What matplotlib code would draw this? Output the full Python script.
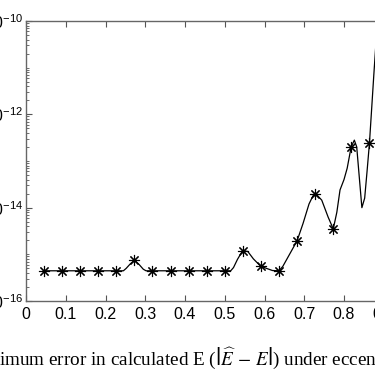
import matplotlib
matplotlib.use("Agg")
import matplotlib.pyplot as plt
from matplotlib.ticker import LogLocator, NullFormatter

# star markers: x = k/22
mark_x = [1/22, 2/22, 3/22, 4/22, 5/22, 6/22, 7/22, 8/22, 9/22, 10/22,
          11/22, 12/22, 13/22, 14/22, 15/22, 16/22, 17/22, 18/22, 19/22]
mark_y = [4.44e-16, 4.44e-16, 4.44e-16, 4.44e-16, 4.44e-16, 7.5e-16, 4.44e-16,
          4.44e-16, 4.44e-16, 4.44e-16, 4.44e-16, 1.2e-15, 5.6e-16, 4.44e-16,
          1.95e-15, 1.95e-14, 3.5e-15, 2.0e-13, 2.4e-13]

# continuous curve
line_x = [0.045, 0.245, 0.252, 0.262, 0.273, 0.285, 0.295, 0.302, 0.515,
          0.522, 0.532, 0.545, 0.558, 0.572, 0.590, 0.605, 0.620, 0.636,
          0.646, 0.660, 0.682, 0.697, 0.712, 0.722, 0.730, 0.744, 0.760,
          0.773, 0.782, 0.790, 0.800, 0.808, 0.818, 0.826, 0.832, 0.838,
          0.845, 0.852, 0.858, 0.864, 0.870, 0.875, 0.880, 0.884]
line_y = [4.44e-16, 4.44e-16, 5.0e-16, 6.2e-16, 7.5e-16, 6.0e-16, 4.8e-16,
          4.44e-16, 4.44e-16, 5.2e-16, 7.8e-16, 1.2e-15, 1.15e-15, 8.0e-16,
          5.6e-16, 5.0e-16, 4.5e-16, 4.44e-16, 5.5e-16, 9.0e-16, 1.95e-15,
          4.6e-15, 1.2e-14, 1.8e-14, 1.95e-14, 1.45e-14, 6.3e-15, 3.5e-15,
          8.0e-15, 2.4e-14, 4.0e-14, 7.0e-14, 2.0e-13, 2.8e-13, 2.0e-13,
          5.0e-14, 1.0e-14, 1.6e-14, 6.0e-14, 2.4e-13, 1.5e-12, 7.0e-12,
          3.0e-11, 8.0e-11]

caption = r"Maximum error in calculated E ($\left|\widehat{E}\,-\,E\right|$) under eccentricity"

plt.rcParams['font.family'] = ['Liberation Sans', 'DejaVu Sans']
plt.rcParams['mathtext.fontset'] = 'custom'
plt.rcParams['mathtext.rm'] = 'Liberation Sans'

fig = plt.figure(figsize=(3.75, 3.75), dpi=100)
# axes run past the right edge of the figure, like the cropped reference
ax = fig.add_axes([26/375, 74/375, 397.5/375, 280/375])

ax.plot(line_x, line_y, color='black', linewidth=0.9)
ax.plot(mark_x, mark_y, linestyle='none', marker=(8, 2, 0), markersize=8,
        markeredgecolor='black', markeredgewidth=0.8)

ax.set_yscale('log')
ax.set_xlim(0, 1)
ax.set_ylim(1e-16, 1e-10)
ax.set_xticks([0, 0.1, 0.2, 0.3, 0.4, 0.5, 0.6, 0.7, 0.8, 0.9, 1.0])
ax.set_xticklabels(['0', '0.1', '0.2', '0.3', '0.4', '0.5', '0.6', '0.7', '0.8', '0.9', '1'])
ax.set_yticks([1e-16, 1e-14, 1e-12, 1e-10])
ax.yaxis.set_minor_locator(LogLocator(base=10, subs=range(1, 10), numticks=20))
ax.yaxis.set_minor_formatter(NullFormatter())

ax.tick_params(which='both', direction='in', top=True, right=True,
               colors='#555555', labelcolor='black', labelsize=11.5)
ax.tick_params(which='major', length=4, width=0.8)
ax.tick_params(which='minor', length=2, width=0.6)
ax.tick_params(axis='y', pad=2)
ax.tick_params(axis='x', pad=4)
for s in ax.spines.values():
    s.set_color('#666666')
    s.set_linewidth(1.0)

fig.text(-0.095, 0.045, caption, ha='left', va='center', fontsize=13.8,
         family='Liberation Serif', math_fontfamily='stix')

fig.savefig('out.png', dpi=100)
